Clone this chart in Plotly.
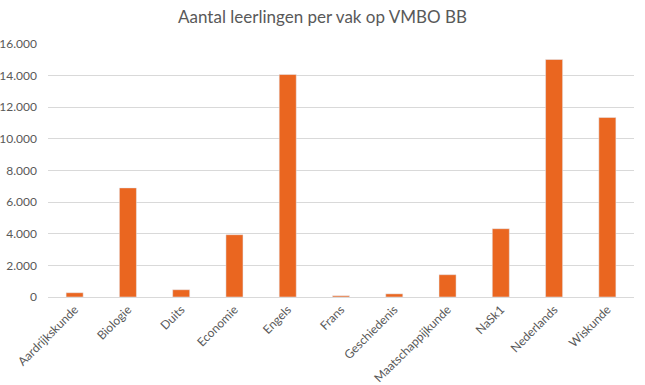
import plotly.graph_objects as go

categories = ["Aardrijkskunde", "Biologie", "Duits", "Economie", "Engels", "Frans",
              "Geschiedenis", "Maatschappijkunde", "NaSk1", "Nederlands", "Wiskunde"]
values = [270, 6900, 460, 3940, 14070, 80, 200, 1410, 4320, 15020, 11350]
y_ticks = [0, 2000, 4000, 6000, 8000, 10000, 12000, 14000, 16000]

fig = go.Figure(go.Bar(x=categories, y=values, marker_color="#EA6620", width=0.32))

fig.update_layout(
    width=645, height=385,
    margin=dict(l=48, r=11, t=44, b=88, autoexpand=False),
    paper_bgcolor="white", plot_bgcolor="white",
    separators=",.",
    font=dict(family="Lato, Liberation Sans, sans-serif", color="#595959", size=12),
    title=dict(text="Aantal leerlingen per vak op VMBO BB", x=0.5, xref="container",
               xanchor="center", y=1 - 17 / 385, yref="container", yanchor="middle",
               font=dict(size=17, color="#595959")),
    showlegend=False,
    bargap=0.68,
)
fig.update_yaxes(range=[0, 16000], tickvals=y_ticks, tickformat=",d", automargin=False,
                 showgrid=True, gridcolor="#d9d9d9", gridwidth=1, zeroline=False,
                 tickfont=dict(size=12, color="#595959"), ticks="", ticklabelstandoff=10)
fig.update_xaxes(tickangle=-45, showline=True, linecolor="#d9d9d9", linewidth=1,
                 automargin=False, tickfont=dict(size=12, color="#595959"), ticks="")

fig.write_html("out.html", config={"displayModeBar": False},
               post_script="document.body.style.margin='0';")
